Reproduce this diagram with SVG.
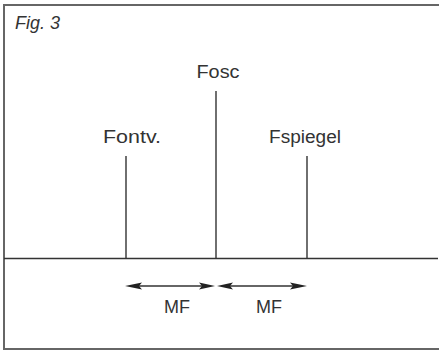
<svg xmlns="http://www.w3.org/2000/svg" width="439" height="351" viewBox="0 0 439 351">
<defs>
<style>
.lbl{font-family:"Liberation Sans",Arial,sans-serif;font-size:18px;fill:#333;}
.ln{stroke:#333;stroke-width:1.4;fill:none;}
.frame{stroke:#666;stroke-width:2;fill:none;}
.head{fill:#222;}
</style>
</defs>
<rect x="0" y="0" width="439" height="351" fill="#ffffff"/>
<g id="frame">
<polyline class="frame" points="439,5 4,5 4,349 439,349"/>
<text class="lbl" x="15" y="29" font-style="italic" font-size="17" textLength="45" lengthAdjust="spacingAndGlyphs">Fig. 3</text>
</g>
<g id="axis">
<line class="ln" x1="4" y1="258.5" x2="438" y2="258.5"/>
</g>
<g id="fontv">
<line class="ln" x1="126" y1="156" x2="126" y2="258"/>
<text class="lbl" x="132" y="143" text-anchor="middle" textLength="58" lengthAdjust="spacingAndGlyphs">Fontv.</text>
</g>
<g id="fosc">
<line class="ln" x1="216" y1="91" x2="216" y2="258"/>
<text class="lbl" x="218" y="78" text-anchor="middle" textLength="43" lengthAdjust="spacingAndGlyphs">Fosc</text>
</g>
<g id="fspiegel">
<line class="ln" x1="307" y1="156" x2="307" y2="258"/>
<text class="lbl" x="305" y="143" text-anchor="middle" textLength="72" lengthAdjust="spacingAndGlyphs">Fspiegel</text>
</g>
<g id="connectors">
<line class="ln" x1="135" y1="286" x2="208" y2="286"/>
<polygon class="head" points="125,286 142,282.5 139,286 142,289.5"/>
<polygon class="head" points="215,286 199,282.5 202,286 199,289.5"/>
<line class="ln" x1="225" y1="286" x2="298" y2="286"/>
<polygon class="head" points="217,286 233,282.5 230,286 233,289.5"/>
<polygon class="head" points="307,286 290,282.5 293,286 290,289.5"/>
</g>
<g id="mf1">
<text class="lbl" x="177" y="313" text-anchor="middle">MF</text>
</g>
<g id="mf2">
<text class="lbl" x="269" y="313" text-anchor="middle">MF</text>
</g>
</svg>
